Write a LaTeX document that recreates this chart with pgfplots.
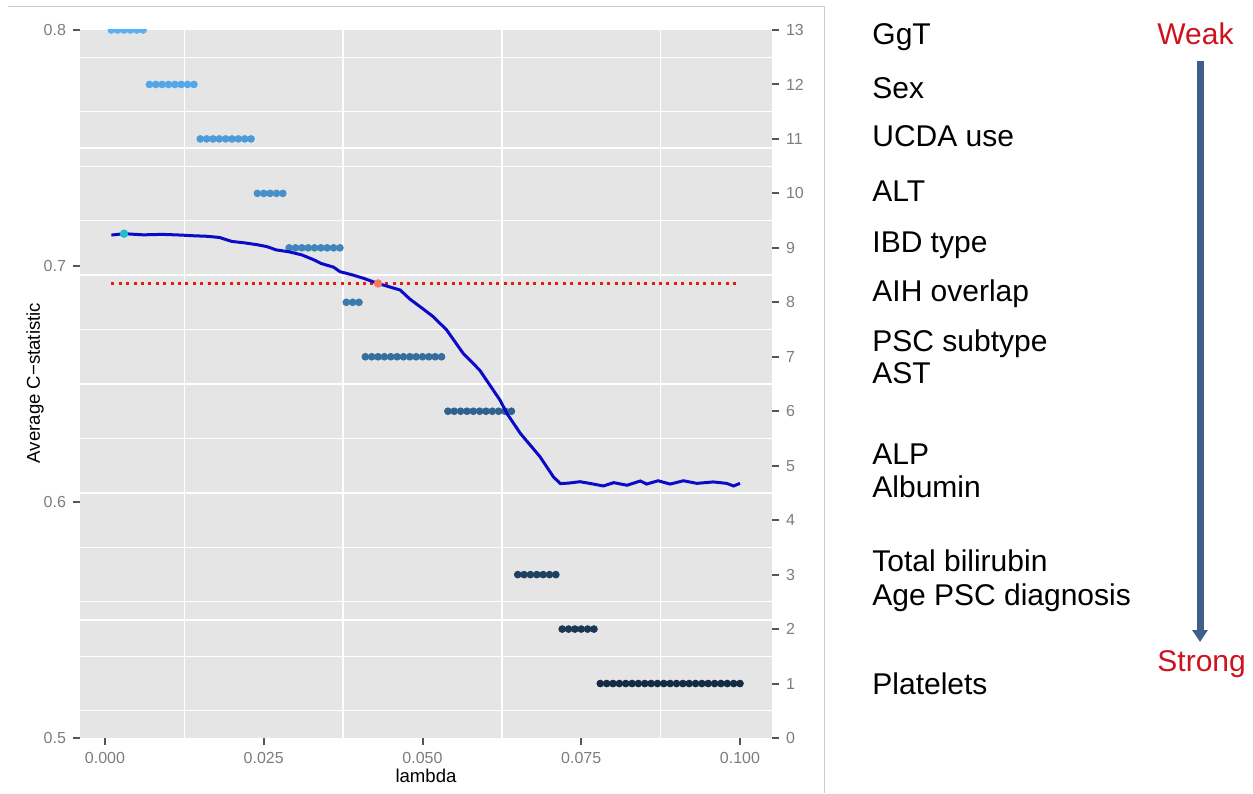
\documentclass[border=0pt]{standalone}
\usepackage{pgfplots}
\pgfplotsset{compat=1.18}
\usepackage{fontspec}
\setmainfont{Liberation Sans}
\usetikzlibrary{arrows.meta}

\definecolor{panel}{RGB}{229,229,229}
\definecolor{tickgray}{RGB}{125,125,125}
\definecolor{tickdark}{RGB}{85,85,85}
\definecolor{lineblue}{RGB}{10,10,200}
\definecolor{cutred}{RGB}{230,25,25}
\definecolor{optcyan}{RGB}{30,190,200}
\definecolor{salmon}{RGB}{245,120,100}
\definecolor{slideRed}{RGB}{205,20,30}
\definecolor{arrowblue}{RGB}{64,94,138}
\definecolor{frame}{RGB}{205,205,205}

% number of variables selected (right axis)
\pgfplotstableread{
lambda nvar
0.001 13
0.002 13
0.003 13
0.004 13
0.005 13
0.006 13
0.007 12
0.008 12
0.009 12
0.010 12
0.011 12
0.012 12
0.013 12
0.014 12
0.015 11
0.016 11
0.017 11
0.018 11
0.019 11
0.020 11
0.021 11
0.022 11
0.023 11
0.024 10
0.025 10
0.026 10
0.027 10
0.028 10
0.029 9
0.030 9
0.031 9
0.032 9
0.033 9
0.034 9
0.035 9
0.036 9
0.037 9
0.038 8
0.039 8
0.040 8
0.041 7
0.042 7
0.043 7
0.044 7
0.045 7
0.046 7
0.047 7
0.048 7
0.049 7
0.050 7
0.051 7
0.052 7
0.053 7
0.054 6
0.055 6
0.056 6
0.057 6
0.058 6
0.059 6
0.060 6
0.061 6
0.062 6
0.063 6
0.064 6
0.065 3
0.066 3
0.067 3
0.068 3
0.069 3
0.070 3
0.071 3
0.072 2
0.073 2
0.074 2
0.075 2
0.076 2
0.077 2
0.078 1
0.079 1
0.080 1
0.081 1
0.082 1
0.083 1
0.084 1
0.085 1
0.086 1
0.087 1
0.088 1
0.089 1
0.090 1
0.091 1
0.092 1
0.093 1
0.094 1
0.095 1
0.096 1
0.097 1
0.098 1
0.099 1
0.100 1
}\nvartable

% average C-statistic (left axis)
\pgfplotstableread{
lambda cstat
0.001 0.7131
0.003 0.7137
0.006 0.7132
0.009 0.7134
0.012 0.7131
0.014 0.7128
0.016 0.7126
0.018 0.7121
0.020 0.7104
0.022 0.7098
0.024 0.7090
0.0255 0.7082
0.027 0.7068
0.029 0.7060
0.031 0.7047
0.033 0.7025
0.034 0.7011
0.036 0.6995
0.037 0.6976
0.039 0.6962
0.0407 0.6948
0.043 0.6926
0.0465 0.6898
0.048 0.6860
0.050 0.6820
0.0517 0.6785
0.0538 0.6729
0.0564 0.6630
0.059 0.6559
0.0622 0.6432
0.0633 0.6375
0.0654 0.6291
0.0685 0.6192
0.0706 0.6107
0.0717 0.6078
0.073 0.6080
0.0748 0.6086
0.0765 0.6078
0.0785 0.6068
0.0801 0.6082
0.0822 0.6071
0.0843 0.6089
0.0853 0.6076
0.0871 0.6090
0.089 0.6076
0.0911 0.6090
0.0932 0.6079
0.0958 0.6085
0.0979 0.6079
0.099 0.6068
0.100 0.6079
}\cstattable

\begin{document}
\begin{tikzpicture}[x=0.5pt,y=0.5pt]
\path (0,0) rectangle (1253,793);

% right axis with panel, grid and the selected-variable dots
\begin{axis}[
  at={(40pt,27.5pt)}, anchor=south west,
  scale only axis, width=346pt, height=354pt,
  xmin=-0.003937, xmax=0.10504, ymin=0, ymax=13,
  axis background/.style={fill=panel},
  axis line style={draw=none},
  clip marker paths=true,
  tick align=outside, major tick length=3.5pt, minor tick length=0pt,
  tick style={tickdark, line width=1pt},
  xtick={0,0.025,0.05,0.075,0.1},
  xticklabels={0.000,0.025,0.050,0.075,0.100},
  scaled x ticks=false,
  xtick pos=left, xticklabel pos=left,
  ytick={0,1,2,3,4,5,6,7,8,9,10,11,12,13},
  yticklabels={0,1,2,3,4,5,6,7,8,9,10,11,12,13},
  ytick pos=right, yticklabel pos=right,
  minor xtick={0.0125,0.0375,0.0625,0.0875},
  minor ytick={0.5,1.5,2.1667,2.5,3.5,4.5,5.5,6.5,7.5,8.5,9.5,10.5,10.8333,11.5,12.5},
  grid=minor,
  minor grid style={white, line width=0.65pt},
  tick label style={font=\fontsize{8}{9}\selectfont, text=tickgray},
  /pgf/number format/assume math mode=true,
  colormap={dots}{rgb255=(19,43,67) rgb255=(86,177,247)},
  point meta min=1, point meta max=13,
]
\addplot[scatter, only marks, mark=*, mark size=1.7pt, scatter src=y,
  scatter/use mapped color={draw=mapped color, fill=mapped color}]
  table[x=lambda, y=nvar] {\nvartable};
\end{axis}

% left axis with the C-statistic curve
\begin{axis}[
  at={(40pt,27.5pt)}, anchor=south west,
  scale only axis, width=346pt, height=354pt,
  xmin=-0.003937, xmax=0.10504, ymin=0.5, ymax=0.8,
  axis line style={draw=none},
  tick align=outside, major tick length=3.5pt,
  tick style={tickdark, line width=1pt},
  xtick=\empty,
  ytick={0.5,0.6,0.7,0.8},
  yticklabels={0.5,0.6,0.7,0.8},
  ytick pos=left, yticklabel pos=left,
  tick label style={font=\fontsize{8}{9}\selectfont, text=tickgray},
  /pgf/number format/assume math mode=true,
]
\addplot[cutred, line width=1.5pt, dash pattern=on 1.5pt off 2.2pt]
  coordinates {(0.001,0.6926) (0.1,0.6926)};
\addplot[lineblue, line width=1.5pt] table[x=lambda, y=cstat] {\cstattable};
\addplot[only marks, mark=*, mark size=1.9pt, optcyan] coordinates {(0.003,0.7137)};
\addplot[only marks, mark=*, mark size=1.9pt, salmon] coordinates {(0.043,0.6926)};
\end{axis}

% axis titles
\node[rotate=90, font=\fontsize{9.3}{11}\selectfont] at (35,410) {Average C−statistic};
\node[anchor=base, font=\fontsize{9.3}{11}\selectfont] at (426,11) {lambda};

% slide frame
\draw[frame, line width=0.5pt] (8,786) -- (824,786) -- (824,0);

% variable names
\begin{scope}[every node/.style={anchor=base west, inner sep=0pt, font=\fontsize{15}{18}\selectfont}]
\node at (872,748) {GgT};
\node at (872,694) {Sex};
\node at (872,646.3) {UCDA use};
\node at (872,591.3) {ALT};
\node at (872,540.7) {IBD type};
\node at (872,491.3) {AIH overlap};
\node at (872,441.3) {PSC subtype};
\node at (872,409.7) {AST};
\node at (872,328.7) {ALP};
\node at (872,295.3) {Albumin};
\node at (872,222) {Total bilirubin};
\node at (872,187.3) {Age PSC diagnosis};
\node at (872,99) {Platelets};
\node[text=slideRed] at (1157,748) {Weak};
\node[text=slideRed] at (1157,121.3) {Strong};
\end{scope}

\draw[arrowblue, line width=3.5pt, -{Triangle[width=7.5pt,length=6pt]}] (1200,732) -- (1200,151);
\end{tikzpicture}
\end{document}
